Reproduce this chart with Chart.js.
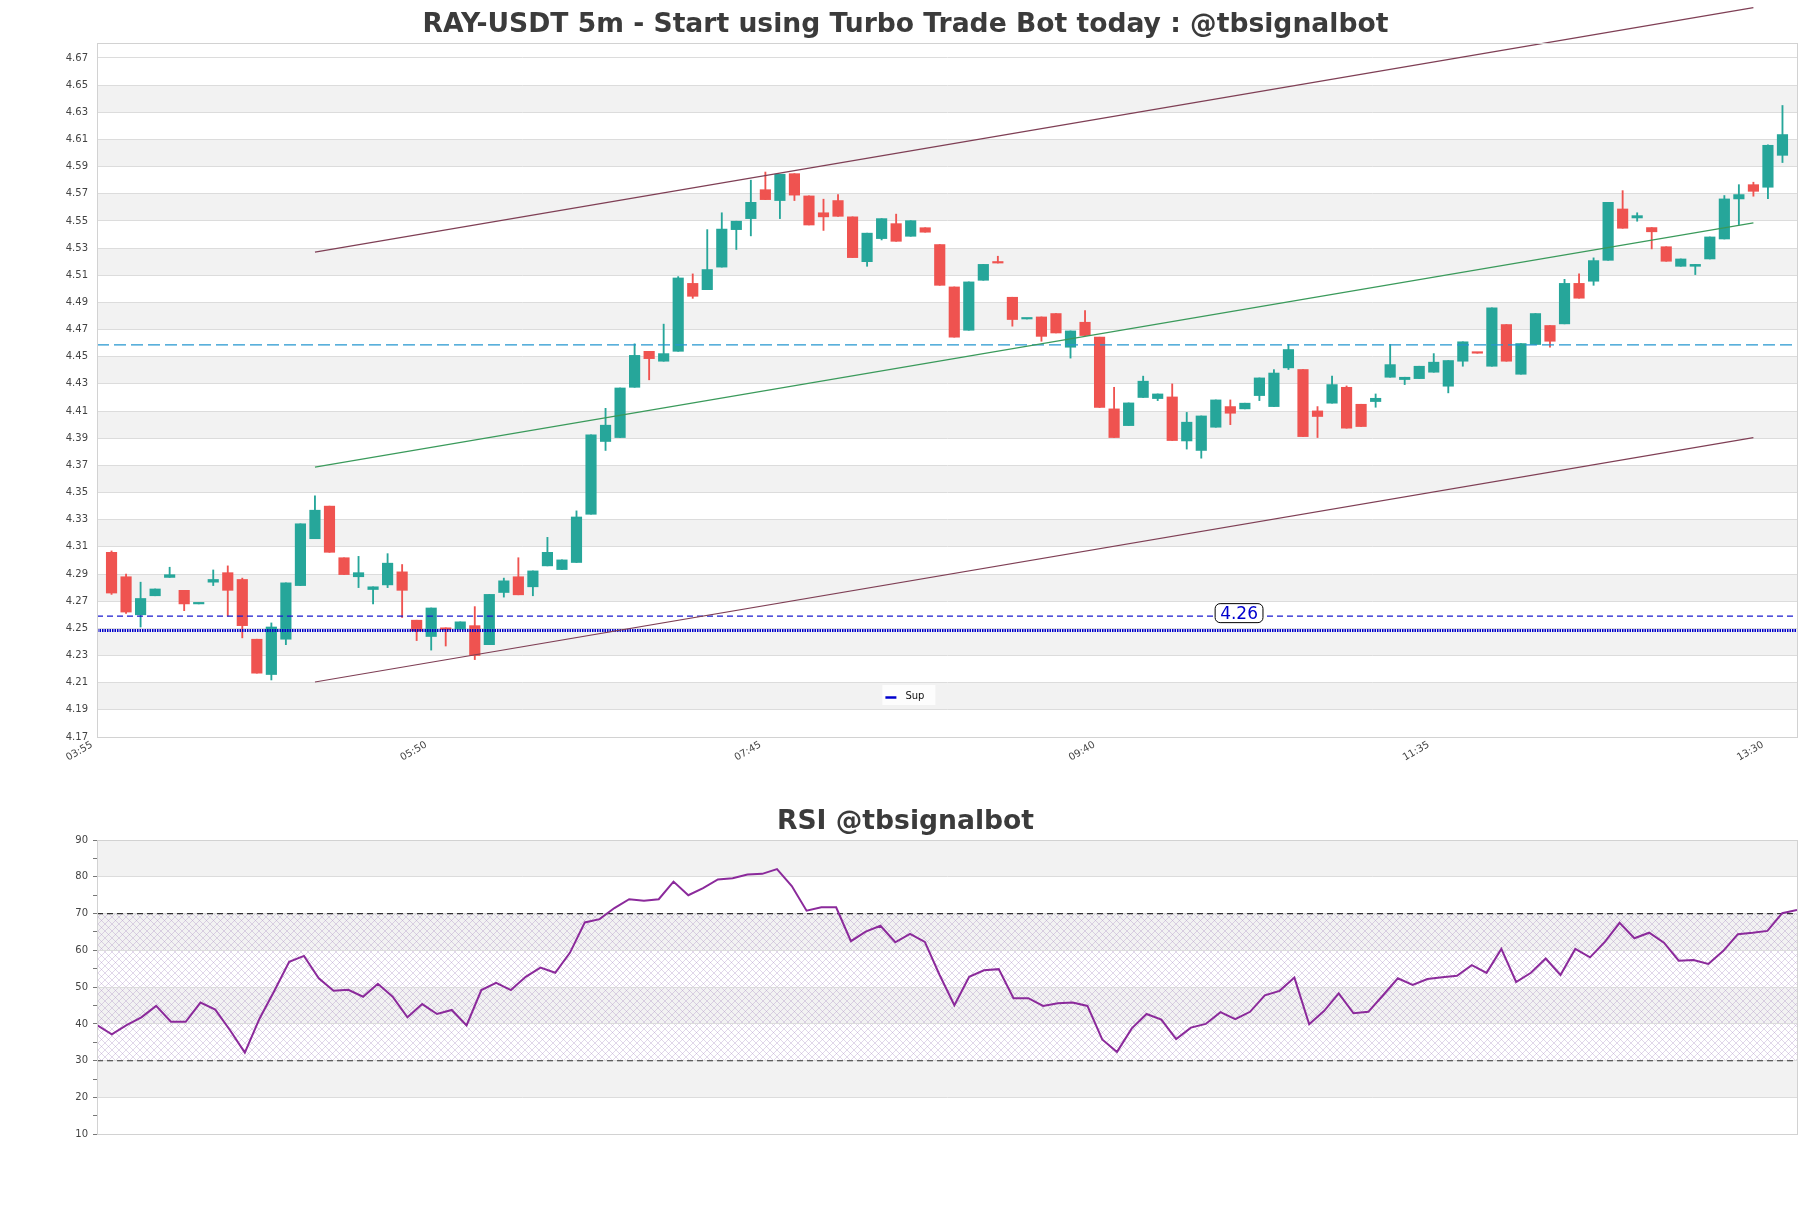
<!DOCTYPE html>
<html>
<head>
<meta charset="utf-8">
<script src="https://cdn.jsdelivr.net/npm/chart.js@4.4.1/dist/chart.umd.min.js"></script>
<style>
    html, body { margin: 0; padding: 0; background: #fff; }
    #wrap { position: relative; width: 1811px; height: 1208px; }
    #price-box { position: absolute; left: 0; top: 0; width: 1811px; height: 770px; }
    #rsi-box { position: absolute; left: 0; top: 770px; width: 1811px; height: 438px; }
</style>
</head>
<body>
<div id="wrap">
    <div id="price-box"><canvas id="price-chart"></canvas></div>
    <div id="rsi-box"><canvas id="rsi-chart"></canvas></div>
</div>
<script>
'use strict';

/* ---------- data ---------- */
const opens = [
    4.306, 4.288, 4.260, 4.274, 4.2875, 4.278, 4.268, 4.284, 4.291, 4.286,
    4.242, 4.216, 4.242, 4.2815, 4.316, 4.340, 4.302, 4.288, 4.2786, 4.282,
    4.2916, 4.256, 4.244, 4.2504, 4.2494, 4.252, 4.238, 4.2764, 4.288, 4.2806,
    4.296, 4.2933, 4.2985, 4.334, 4.3876, 4.3905, 4.4275, 4.454, 4.4467, 4.454,
    4.504, 4.4994, 4.516, 4.5436, 4.5517, 4.573, 4.565, 4.5848, 4.5684, 4.556,
    4.565, 4.553, 4.520, 4.537, 4.548, 4.5387, 4.545, 4.5326, 4.5014, 4.4695,
    4.5063, 4.520, 4.4938, 4.4778, 4.4793, 4.4818, 4.457, 4.4754, 4.4644, 4.4116,
    4.3993, 4.420, 4.4192, 4.4204, 4.388, 4.381, 4.3981, 4.4133, 4.4116, 4.4214,
    4.4133, 4.4418, 4.4406, 4.4101, 4.4158, 4.4275, 4.415, 4.417, 4.4349, 4.4332,
    4.4339, 4.4386, 4.4283, 4.4467, 4.4530, 4.443, 4.4737, 4.4371, 4.459, 4.473,
    4.4742, 4.504, 4.5056, 4.521, 4.5588, 4.5522, 4.5451, 4.531, 4.5166, 4.5166,
    4.522, 4.5367, 4.5662, 4.5767, 4.5748, 4.5983
];
const highs = [
    4.307, 4.290, 4.284, 4.279, 4.295, 4.278, 4.2687, 4.293, 4.296, 4.287,
    4.242, 4.254, 4.2835, 4.327, 4.3475, 4.340, 4.302, 4.303, 4.2806, 4.305,
    4.297, 4.256, 4.265, 4.2504, 4.2548, 4.266, 4.275, 4.287, 4.302, 4.2923,
    4.317, 4.3004, 4.3365, 4.3925, 4.412, 4.427, 4.4595, 4.454, 4.474, 4.509,
    4.511, 4.5436, 4.556, 4.5498, 4.580, 4.586, 4.5844, 4.5848, 4.5684, 4.566,
    4.5694, 4.553, 4.541, 4.5517, 4.555, 4.5502, 4.545, 4.5326, 4.5014, 4.5051,
    4.518, 4.524, 4.4938, 4.478, 4.4793, 4.4818, 4.469, 4.484, 4.4644, 4.4275,
    4.416, 4.4357, 4.4226, 4.430, 4.409, 4.4064, 4.4182, 4.4182, 4.4158, 4.4344,
    4.4405, 4.459, 4.4406, 4.4133, 4.4357, 4.4285, 4.415, 4.4226, 4.459, 4.4349,
    4.443, 4.4523, 4.4472, 4.461, 4.4530, 4.486, 4.4737, 4.4597, 4.4818, 4.473,
    4.507, 4.511, 4.5228, 4.5637, 4.5723, 4.556, 4.5451, 4.531, 4.522, 4.518,
    4.5382, 4.5687, 4.5767, 4.5785, 4.606, 4.635
];
const lows = [
    4.275, 4.261, 4.251, 4.274, 4.2875, 4.263, 4.268, 4.2815, 4.259, 4.243,
    4.217, 4.212, 4.238, 4.2815, 4.316, 4.306, 4.2896, 4.280, 4.268, 4.280,
    4.258, 4.241, 4.234, 4.237, 4.2494, 4.227, 4.238, 4.273, 4.2747, 4.274,
    4.296, 4.2933, 4.2985, 4.334, 4.381, 4.3905, 4.4275, 4.433, 4.4467, 4.454,
    4.493, 4.4994, 4.516, 4.529, 4.539, 4.5657, 4.5517, 4.565, 4.547, 4.543,
    4.5534, 4.523, 4.5166, 4.536, 4.535, 4.5387, 4.5417, 4.5026, 4.4644, 4.4695,
    4.5063, 4.519, 4.4725, 4.4778, 4.4614, 4.4675, 4.449, 4.4656, 4.4126, 4.3905,
    4.3993, 4.420, 4.4177, 4.3883, 4.382, 4.3753, 4.3981, 4.400, 4.4116, 4.4177,
    4.4133, 4.4406, 4.3912, 4.3905, 4.4158, 4.3974, 4.3986, 4.4128, 4.4349, 4.4295,
    4.4339, 4.4386, 4.4234, 4.443, 4.4526, 4.443, 4.4467, 4.4371, 4.459, 4.457,
    4.4742, 4.4931, 4.5026, 4.521, 4.5446, 4.5498, 4.5294, 4.5203, 4.5166, 4.5105,
    4.522, 4.5367, 4.5473, 4.5682, 4.5664, 4.593
];
const closes = [
    4.276, 4.262, 4.272, 4.279, 4.2895, 4.268, 4.2687, 4.286, 4.278, 4.252,
    4.217, 4.251, 4.2835, 4.327, 4.337, 4.306, 4.2896, 4.291, 4.2806, 4.298,
    4.278, 4.248, 4.265, 4.249, 4.2548, 4.230, 4.275, 4.285, 4.2747, 4.2923,
    4.306, 4.3004, 4.332, 4.3925, 4.3996, 4.427, 4.451, 4.4486, 4.4523, 4.508,
    4.4945, 4.5142, 4.544, 4.5498, 4.5637, 4.5657, 4.5844, 4.569, 4.547, 4.553,
    4.5534, 4.523, 4.541, 4.5517, 4.535, 4.5502, 4.5417, 4.5026, 4.4644, 4.5051,
    4.518, 4.519, 4.4774, 4.478, 4.465, 4.4675, 4.469, 4.4656, 4.4126, 4.3905,
    4.416, 4.432, 4.4226, 4.3883, 4.4018, 4.4064, 4.4182, 4.4084, 4.4158, 4.4344,
    4.438, 4.4553, 4.3912, 4.406, 4.4295, 4.3974, 4.3986, 4.4194, 4.4442, 4.4349,
    4.443, 4.446, 4.4472, 4.461, 4.4526, 4.486, 4.4467, 4.4597, 4.4818, 4.4614,
    4.504, 4.4931, 4.5208, 4.5637, 4.5446, 4.5539, 4.542, 4.5203, 4.522, 4.518,
    4.5382, 4.5662, 4.5694, 4.5718, 4.6057, 4.6136
];

const rsi = [
    39.7, 37.2, 39.7, 41.8, 44.9, 40.6, 40.6, 45.8, 43.9, 38.3,
    32.2, 41.5, 49.0, 56.9, 58.5, 52.4, 49.0, 49.3, 47.4, 50.9,
    47.4, 41.8, 45.4, 42.7, 43.8, 39.6, 49.2, 51.2, 49.2, 52.8,
    55.3, 53.9, 59.4, 67.6, 68.5, 71.5, 73.9, 73.5, 73.9, 78.7,
    75.0, 76.9, 79.3, 79.6, 80.6, 80.8, 82.1, 77.5, 70.8, 71.7,
    71.7, 62.5, 65.1, 66.7, 62.2, 64.5, 62.3, 53.3, 45.1, 52.8,
    54.6, 54.9, 47.0, 47.0, 44.9, 45.6, 45.8, 44.9, 35.8, 32.4,
    38.8, 42.7, 41.2, 35.9, 39.0, 40.0, 43.2, 41.3, 43.3, 47.8,
    49.0, 52.6, 39.9, 43.5, 48.3, 42.9, 43.3, 47.8, 52.4, 50.6,
    52.2, 52.7, 53.1, 56.0, 53.9, 60.4, 51.4, 53.9, 57.8, 53.3,
    60.4, 58.1, 62.3, 67.5, 63.3, 64.8, 62.1, 57.2, 57.4, 56.3,
    59.8, 64.4, 64.8, 65.3, 70.1, 71.0
];

// channel lines: candle index of both ends, and their prices
const trendAt    = [14, 113];
const upperTrend = [4.527, 4.707];
const midTrend   = [4.3687, 4.5485];
const lowerTrend = [4.2105, 4.3905];

const resLevel     = 4.4587;   // cyan dashed
const supDashLevel = 4.259;    // blue dashed, tagged
const supDotLevel  = 4.2484;   // blue dotted, "Sup"
const supTagAt     = 77.6;     // candle index where the tag sits
const rsiBounds    = [30, 70];

const priceTicks = [
    4.17, 4.19, 4.21, 4.23, 4.25, 4.27, 4.29, 4.31, 4.33, 4.35, 4.37, 4.39, 4.41,
    4.43, 4.45, 4.47, 4.49, 4.51, 4.53, 4.55, 4.57, 4.59, 4.61, 4.63, 4.65, 4.67
];
const timeTickAt   = [-1, 22, 45, 68, 91, 114];
const timeTickText = ['03:55', '05:50', '07:45', '09:40', '11:35', '13:30'];
const rsiTicks = [10, 15, 20, 25, 30, 35, 40, 45, 50, 55, 60, 65, 70, 75, 80, 85, 90];

/* ---------- styling ---------- */
const UP      = '#26a69a';
const DOWN    = '#ef5350';
const BAND    = '#f2f2f2';
const GRID    = '#dcdcdc';
const FRAME   = '#d2d2d2';
const LABEL   = '#444';
const TITLE   = '#3b3b3b';
const FONT    = "'DejaVu Sans', sans-serif";

Chart.defaults.font.family = FONT;
Chart.defaults.animation = false;

const candleColor = ctx => closes[ctx.dataIndex] >= opens[ctx.dataIndex] ? UP : DOWN;
const seg = (xs, ys) => xs.map((x, i) => ({ x, y: ys[i] }));
const flat = v => [{ x: -1, y: v }, { x: opens.length, y: v }];

// empty right-hand axis that keeps a 14px margin without shifting the title
const rightGap = {
    position: 'right',
    grid: { display: false, drawTicks: false },
    border: { display: false },
    ticks: { display: false },
    afterFit: s => { s.width = 14; },
};

// alternating bands + optional hatch, under the grid
const bandsPlugin = {
    id: 'bands',
    beforeDraw(chart, args, opts) {
        const { ctx, chartArea: a, scales: { y } } = chart;
        const edges = opts.edges;
        ctx.save();
        ctx.fillStyle = BAND;
        for (let k = 1; k + 1 < edges.length; k += 2) {
            const y0 = y.getPixelForValue(edges[k + 1]);
            const y1 = y.getPixelForValue(edges[k]);
            ctx.fillRect(a.left, y0, a.right - a.left, y1 - y0);
        }
        if (opts.hatch) {
            const tile = document.createElement('canvas');
            tile.width = tile.height = 7;
            const g = tile.getContext('2d');
            g.strokeStyle = 'rgba(170,140,195,0.5)';
            g.lineWidth = 0.7;
            g.beginPath();
            g.moveTo(0, 0); g.lineTo(7, 7);
            g.moveTo(7, 0); g.lineTo(0, 7);
            g.stroke();
            ctx.fillStyle = ctx.createPattern(tile, 'repeat');
            const y0 = y.getPixelForValue(opts.hatch[1]);
            const y1 = y.getPixelForValue(opts.hatch[0]);
            ctx.fillRect(a.left, y0, a.right - a.left, y1 - y0);
        }
        ctx.restore();
    },
    afterDraw(chart) {
        const { ctx, chartArea: a } = chart;
        ctx.save();
        ctx.strokeStyle = FRAME;
        ctx.lineWidth = 1;
        ctx.strokeRect(Math.round(a.left) + 0.5, Math.round(a.top) + 0.5,
            Math.round(a.right - a.left), Math.round(a.bottom - a.top));
        ctx.restore();
    },
};

// "4.26" tag on the dashed support and the small "Sup" legend
const tagPlugin = {
    id: 'supTag',
    afterDatasetsDraw(chart) {
        const { ctx, chartArea: a, scales: { x, y } } = chart;
        const text = supDashLevel.toFixed(2);
        const px = x.getPixelForValue(supTagAt);
        const py = y.getPixelForValue(supDashLevel) - 3;
        ctx.save();
        ctx.font = `17px ${FONT}`;
        const w = ctx.measureText(text).width + 10, h = 19;
        ctx.beginPath();
        ctx.roundRect(px - w / 2, py - h / 2, w, h, 5);
        ctx.fillStyle = '#fff';
        ctx.fill();
        ctx.strokeStyle = '#000';
        ctx.lineWidth = 1;
        ctx.stroke();
        ctx.fillStyle = '#0000cd';
        ctx.textAlign = 'center';
        ctx.textBaseline = 'middle';
        ctx.fillText(text, px, py + 1);

        // legend box
        const lx = a.left + (a.right - a.left) * 0.462;
        const ly = a.bottom - 52;
        ctx.fillStyle = 'rgba(255,255,255,0.85)';
        ctx.fillRect(lx, ly, 53, 20);
        ctx.strokeStyle = '#0000cc';
        ctx.lineWidth = 2.5;
        ctx.beginPath();
        ctx.moveTo(lx + 3, ly + 12.5);
        ctx.lineTo(lx + 14, ly + 12.5);
        ctx.stroke();
        ctx.fillStyle = '#111';
        ctx.font = `10px ${FONT}`;
        ctx.textAlign = 'left';
        ctx.fillText('Sup', lx + 23, ly + 11);
        ctx.restore();
    },
};

/* ---------- price chart ---------- */
new Chart(document.getElementById('price-chart'), {
    type: 'bar',
    data: {
        datasets: [
            { type: 'line', data: seg(trendAt, upperTrend), borderColor: '#7f3f55', borderWidth: 1.2, pointRadius: 0, clip: false },
            { type: 'line', data: seg(trendAt, midTrend),   borderColor: '#3a9a5b', borderWidth: 1.2, pointRadius: 0, clip: false },
            { type: 'line', data: seg(trendAt, lowerTrend), borderColor: '#7f3f55', borderWidth: 1.2, pointRadius: 0, clip: false },
            { type: 'line', data: flat(resLevel),     borderColor: '#2596cf', borderWidth: 1.3, borderDash: [12, 5], pointRadius: 0 },
            { type: 'line', data: flat(supDashLevel), borderColor: '#1a1ad0', borderWidth: 1.4, borderDash: [6, 4], pointRadius: 0 },
            { type: 'line', data: flat(supDotLevel),  borderColor: '#0000cc', borderWidth: 3, borderDash: [1.5, 1], pointRadius: 0 },
            {
                label: 'body',
                data: opens.map((o, i) => ({ x: i, y: [o, closes[i]] })),
                backgroundColor: candleColor,
                barThickness: 10.5,
                minBarLength: 1.5,
                grouped: false,
                borderWidth: 0,
            },
            {
                label: 'wick',
                data: lows.map((l, i) => ({ x: i, y: [l, highs[i]] })),
                backgroundColor: candleColor,
                barThickness: 1.2,
                grouped: false,
                borderWidth: 0,
            },
        ],
    },
    options: {
        responsive: true,
        maintainAspectRatio: false,
        devicePixelRatio: 1,
        events: [],
        layout: { padding: 0 },
        plugins: {
            legend:  { display: false },
            tooltip: { enabled: false },
            title: {
                display: true,
                text: 'RAY-USDT 5m - Start using Turbo Trade Bot today : @tbsignalbot',
                color: TITLE,
                font: { size: 26.6, weight: 'bold', lineHeight: 1.2 },
                padding: { top: 9, bottom: 2.1 },
            },
            bands: { edges: priceTicks },
        },
        scales: {
            x: {
                type: 'linear',
                min: -1,
                max: opens.length,
                offset: false,
                grid: { display: false, drawTicks: false },
                border: { color: FRAME },
                afterBuildTicks: s => { s.ticks = timeTickAt.map(v => ({ value: v })); },
                afterFit: s => { s.height = 33; },
                ticks: {
                    autoSkip: false,
                    minRotation: 30,
                    maxRotation: 30,
                    padding: 2,
                    labelOffset: -5,
                    color: LABEL,
                    font: { size: 10 },
                    callback: (v, i) => timeTickText[i],
                },
            },
            y: {
                min: 4.17,
                max: 4.681,
                grid: { color: GRID, drawTicks: false },
                border: { color: FRAME },
                afterBuildTicks: s => { s.ticks = priceTicks.map(v => ({ value: v })); },
                afterFit: s => { s.width = 97; },
                ticks: {
                    padding: 9,
                    color: LABEL,
                    font: { size: 10 },
                    callback: v => v.toFixed(2),
                },
            },
            gap: rightGap,
        },
    },
    plugins: [bandsPlugin, tagPlugin],
});

/* ---------- RSI chart ---------- */
new Chart(document.getElementById('rsi-chart'), {
    type: 'line',
    data: {
        datasets: [
            { data: rsi.map((v, i) => ({ x: i, y: v })), borderColor: '#8b2a9b', borderWidth: 2, pointRadius: 0 },
            { data: [{ x: 0, y: rsiBounds[1] }, { x: rsi.length - 1, y: rsiBounds[1] }], borderColor: '#333', borderWidth: 1.2, borderDash: [6, 4], pointRadius: 0 },
            { data: [{ x: 0, y: rsiBounds[0] }, { x: rsi.length - 1, y: rsiBounds[0] }], borderColor: '#333', borderWidth: 1.2, borderDash: [6, 4], pointRadius: 0 },
        ],
    },
    options: {
        responsive: true,
        maintainAspectRatio: false,
        devicePixelRatio: 1,
        events: [],
        layout: { padding: { left: 0, right: 0, top: 0, bottom: 73.7 } },
        plugins: {
            legend:  { display: false },
            tooltip: { enabled: false },
            title: {
                display: true,
                text: 'RSI @tbsignalbot',
                color: TITLE,
                font: { size: 26.6, weight: 'bold', lineHeight: 1.2 },
                padding: { top: 36.4, bottom: 1.7 },
            },
            bands: { edges: [10, 20, 30, 40, 50, 60, 70, 80, 90], hatch: rsiBounds },
        },
        scales: {
            x: { type: 'linear', min: 0, max: rsi.length - 1, display: false },
            y: {
                min: 10,
                max: 90,
                border: { color: FRAME },
                grid: {
                    color: c => (c.tick && c.tick.value % 10 === 0) ? GRID : 'rgba(0,0,0,0)',
                    tickColor: '#777',
                    tickLength: 4,
                },
                afterBuildTicks: s => { s.ticks = rsiTicks.map(v => ({ value: v })); },
                afterFit: s => { s.width = 97; },
                ticks: {
                    padding: 5,
                    color: LABEL,
                    font: { size: 10 },
                    callback: v => (v % 10 === 0 ? String(v) : ''),
                },
            },
            gap: rightGap,
        },
    },
    plugins: [bandsPlugin],
});
</script>
</body>
</html>
